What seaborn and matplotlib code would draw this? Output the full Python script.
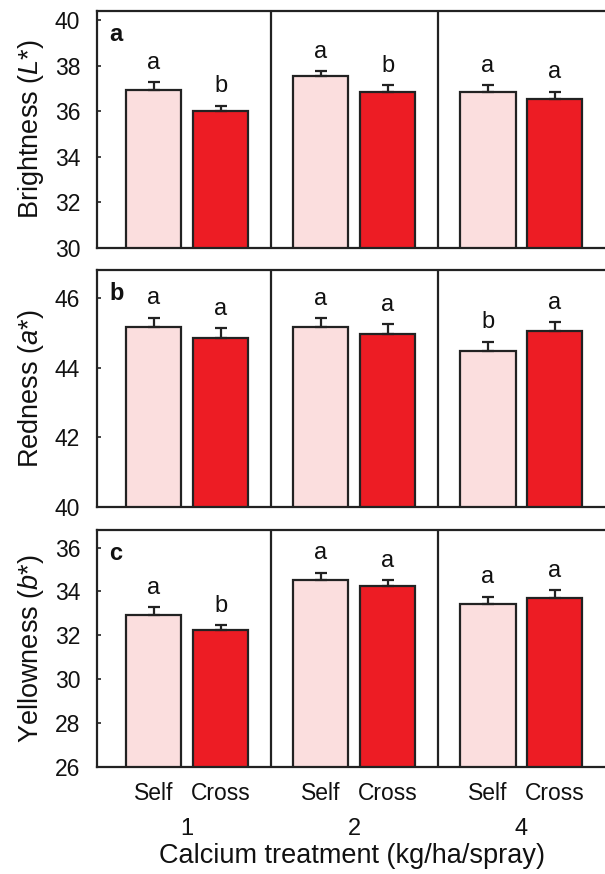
import numpy as np
import pandas as pd
import matplotlib
matplotlib.use("Agg")
import matplotlib.pyplot as plt
import matplotlib.transforms as mtrans
import seaborn as sns

# Calcium treatment levels and pollination types
treatments = ["1", "2", "4"]
pollination = ["Self", "Cross"]

# a: Brightness (L*)
L_self = [36.95, 37.53, 36.84]
L_cross = [36.00, 36.84, 36.56]
L_self_se = [0.33, 0.22, 0.30]
L_cross_se = [0.25, 0.30, 0.30]
L_self_let = ["a", "a", "a"]
L_cross_let = ["b", "b", "a"]

# b: Redness (a*)
a_self = [45.17, 45.16, 44.48]
a_cross = [44.86, 44.97, 45.04]
a_self_se = [0.26, 0.25, 0.26]
a_cross_se = [0.27, 0.27, 0.26]
a_self_let = ["a", "a", "b"]
a_cross_let = ["a", "a", "a"]

# c: Yellowness (b*)
b_self = [32.94, 34.53, 33.44]
b_cross = [32.26, 34.24, 33.71]
b_self_se = [0.33, 0.32, 0.32]
b_cross_se = [0.21, 0.27, 0.35]
b_self_let = ["a", "a", "a"]
b_cross_let = ["b", "a", "a"]

y_labels = [r"Brightness ($\mathit{L}$*)", r"Redness ($\mathit{a}$*)", r"Yellowness ($\mathit{b}$*)"]
panel_tags = ["a", "b", "c"]
y_limits = [(30, 40.4), (40, 46.8), (26, 36.8)]
y_ticks = [[30, 32, 34, 36, 38, 40], [40, 42, 44, 46], [26, 28, 30, 32, 34, 36]]

sns.set_style("white")
plt.rcParams["font.family"] = ["Liberation Sans", "DejaVu Sans"]
plt.rcParams["mathtext.fontset"] = "custom"
plt.rcParams["mathtext.rm"] = "Liberation Sans"
plt.rcParams["mathtext.it"] = "Liberation Sans:italic"
plt.rcParams["text.color"] = "#111111"
plt.rcParams["axes.labelcolor"] = "#111111"
plt.rcParams["xtick.color"] = "#111111"
plt.rcParams["ytick.color"] = "#111111"

colors = {"Self": "#FBDEDE", "Cross": "#ED1C24"}
dark = "#222222"

panels = [
    (L_self, L_cross, L_self_se, L_cross_se, L_self_let, L_cross_let),
    (a_self, a_cross, a_self_se, a_cross_se, a_self_let, a_cross_let),
    (b_self, b_cross, b_self_se, b_cross_se, b_self_let, b_cross_let),
]

fig = plt.figure(figsize=(6.05, 8.74), dpi=100)
ax_bottoms = [0.7162, 0.4199, 0.1224]
ax_h = 0.2712

for i, (s, c, s_se, c_se, s_let, c_let) in enumerate(panels):
    ax = fig.add_axes([0.160, ax_bottoms[i], 0.845, ax_h])
    df = pd.DataFrame({
        "treat": treatments * 2,
        "pollen": ["Self"] * 3 + ["Cross"] * 3,
        "value": s + c,
    })
    sns.barplot(data=df, x="treat", y="value", hue="pollen", order=treatments,
                hue_order=pollination, palette=colors, saturation=1,
                edgecolor=dark, linewidth=1.6, gap=0.175, legend=False,
                errorbar=None, ax=ax)

    errs = [s_se, c_se]
    lets = [s_let, c_let]
    centers = []
    bar_groups = list(ax.containers)
    for k, cont in enumerate(bar_groups):
        for j, bar in enumerate(cont):
            xc = bar.get_x() + bar.get_width() / 2
            h = bar.get_height()
            centers.append((xc, pollination[k]))
            ax.errorbar(xc, h, yerr=[[0], [errs[k][j]]], fmt="none",
                        ecolor=dark, elinewidth=1.6, capsize=4, capthick=1.6)
            span = y_limits[i][1] - y_limits[i][0]
            ax.text(xc, h + errs[k][j] + span * 0.035, lets[k][j],
                    ha="center", va="bottom", fontsize=17)

    ax.set_xlim(-0.54, 2.518)
    ax.set_ylim(*y_limits[i])
    ax.set_yticks(y_ticks[i])
    ax.tick_params(axis="y", direction="in", length=3, width=1.2,
                   labelsize=16.5, pad=12, left=True, color=dark)
    for xv in [0.5, 1.5]:
        ax.axvline(xv, color=dark, lw=1.6)
    for sp in ax.spines.values():
        sp.set_color(dark)
        sp.set_linewidth(1.6)
    ax.set_ylabel(y_labels[i], fontsize=19.5, labelpad=6)
    ax.text(0.025, 0.95, panel_tags[i], transform=ax.transAxes, ha="left",
            va="top", fontsize=17, fontweight="bold")

    if i < 2:
        ax.set_xticks([])
        ax.set_xlabel("")
    else:
        centers.sort()
        ax.set_xticks([p for p, _ in centers])
        ax.set_xticklabels([n for _, n in centers], fontsize=16.5)
        ax.tick_params(axis="x", length=0, pad=11)
        trans = mtrans.blended_transform_factory(ax.transData, ax.transAxes)
        for g, t in enumerate(treatments):
            ax.text(g, -0.215, t, transform=trans, ha="center", va="top", fontsize=17)
        ax.set_xlabel("Calcium treatment (kg/ha/spray)", fontsize=19.5, labelpad=27)

fig.savefig("out.png", dpi=100)
